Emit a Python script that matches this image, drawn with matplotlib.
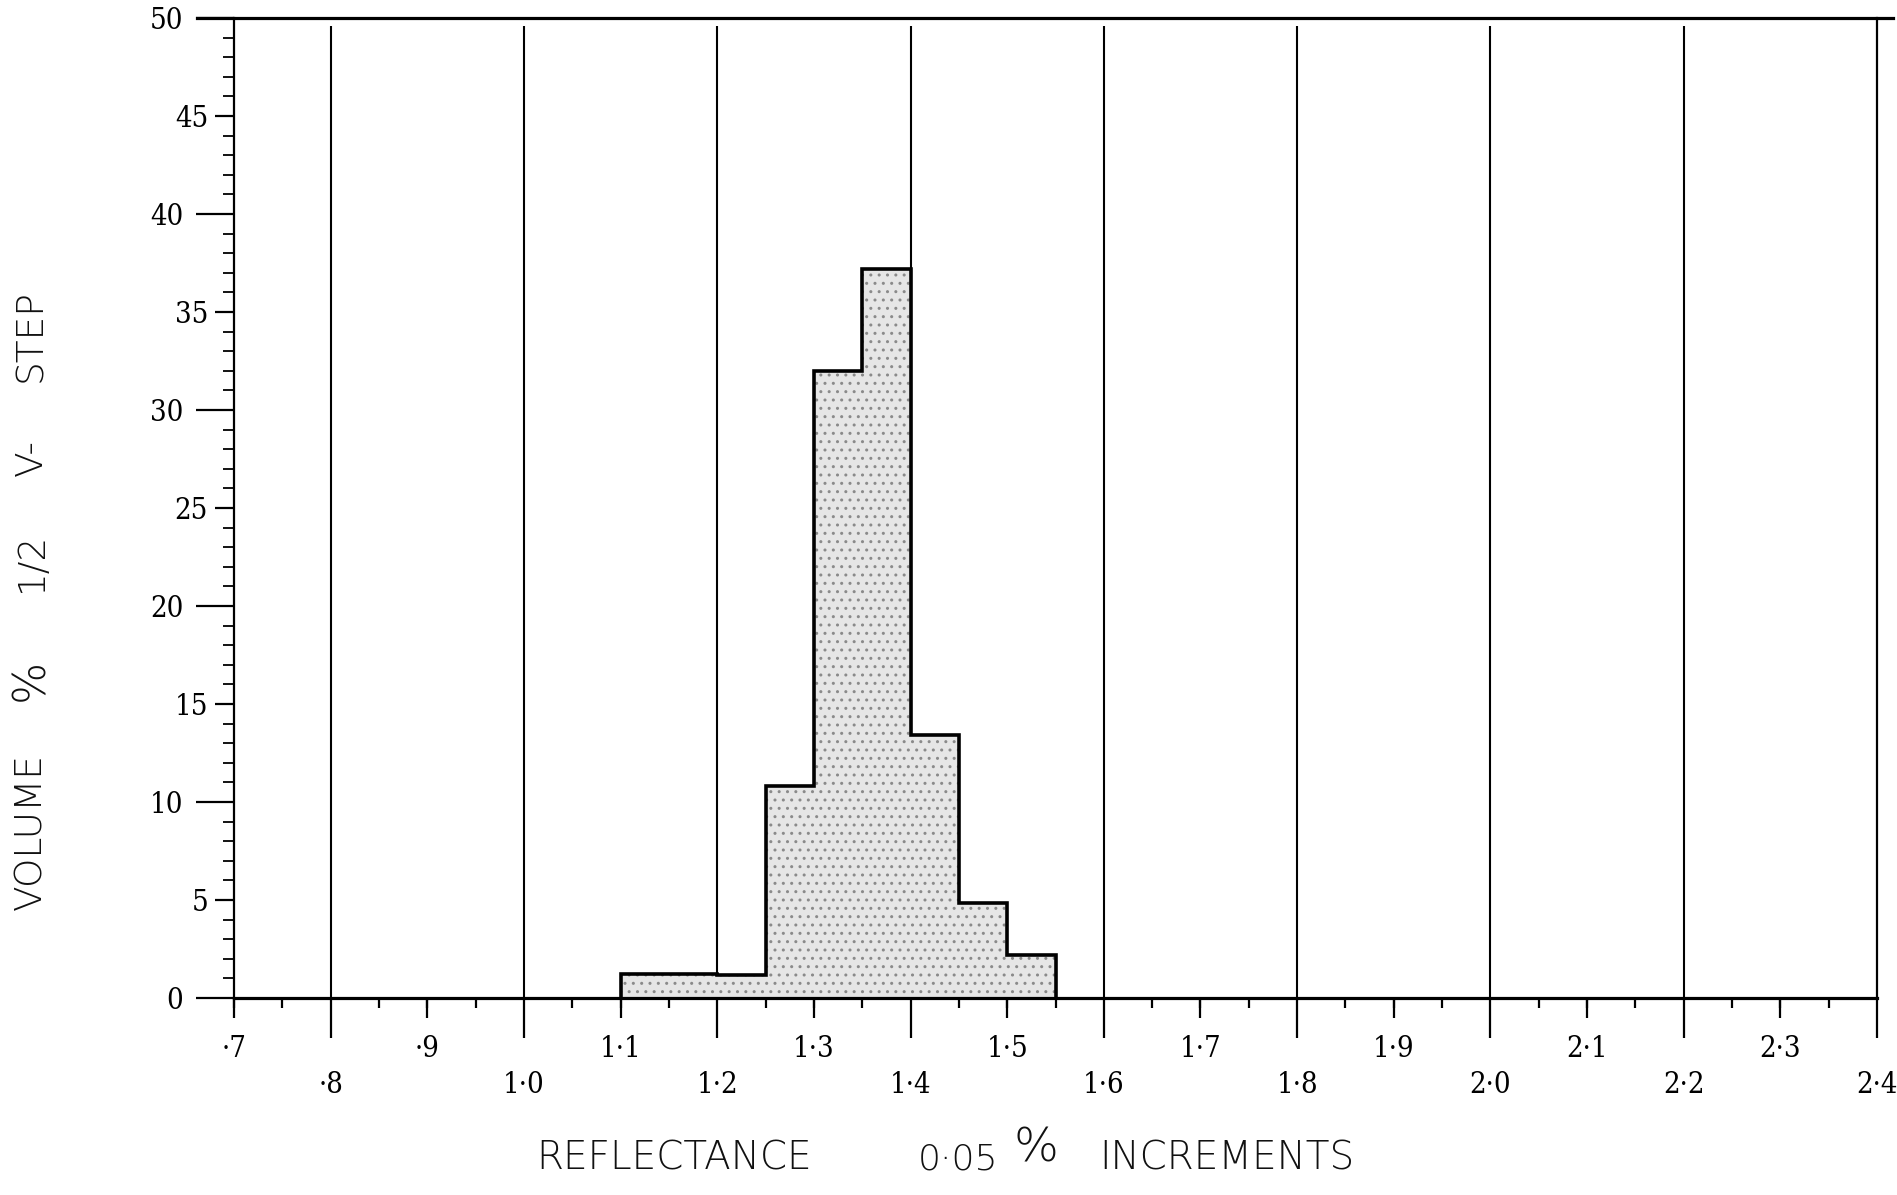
import matplotlib
matplotlib.use("Agg")
import matplotlib.pyplot as plt
from matplotlib.ticker import FixedLocator, MultipleLocator

# ---- data ----
bin_edges = [1.10, 1.15, 1.20, 1.25, 1.30, 1.35, 1.40, 1.45, 1.50, 1.55]
volume_pct = [1.2, 1.2, 1.15, 10.8, 32.0, 37.2, 13.4, 4.85, 2.2]

odd_ticks = [0.7, 0.9, 1.1, 1.3, 1.5, 1.7, 1.9, 2.1, 2.3]
odd_labels = ["·7", "·9", "1·1", "1·3", "1·5", "1·7", "1·9", "2·1", "2·3"]
even_ticks = [0.8, 1.0, 1.2, 1.4, 1.6, 1.8, 2.0, 2.2, 2.4]
even_labels = ["·8", "1·0", "1·2", "1·4", "1·6", "1·8", "2·0", "2·2", "2·4"]

y_major = [0, 10, 20, 30, 40, 50]
y_major_labels = ["0", "10", "20", "30", "40", "50"]
y_mid = [5, 15, 25, 35, 45]
y_mid_labels = ["5", "15", "25", "35", "45"]

ylabel_words = ["VOLUME", "%", "1/2", "V-", "STEP"]
xlabel_words = ["REFLECTANCE", "0·05", "%", "INCREMENTS"]

# ---- figure ----
W, H = 1897, 1195
fig = plt.figure(figsize=(W / 100, H / 100), dpi=100)
fig.patch.set_facecolor("white")
x0, x1 = 234 / W, 1877 / W
y0, y1 = 1 - 998 / H, 1 - 18 / H
ax = fig.add_axes([x0, y0, x1 - x0, y1 - y0])
ax.set_xlim(0.7, 2.4)
ax.set_ylim(0, 50)

tick_font = dict(family="DejaVu Serif", stretch="condensed", size=21)

# histogram
ax.stairs(volume_pct, bin_edges, baseline=0, fill=True,
          facecolor="#e6e6e6", edgecolor="#8a8a8a", hatch="..", linewidth=0, zorder=2)
ax.stairs(volume_pct, bin_edges, baseline=0, fill=False,
          color="black", linewidth=2.6, zorder=3)

# vertical guide lines every 0.2
ax.vlines(even_ticks[:-1], 0, 49.6, color="black", linewidth=1.5, zorder=1)

# spines
ax.spines["top"].set_visible(False)
ax.spines["left"].set_linewidth(1.6)
ax.spines["right"].set_linewidth(1.6)
ax.spines["bottom"].set_linewidth(2.3)
ax.plot([0.662, 2.417], [50, 50], color="black", linewidth=2.3, clip_on=False, zorder=4)

# x ticks
ax.xaxis.set_major_locator(FixedLocator(even_ticks))
ax.set_xticklabels(even_labels, fontdict=tick_font)
ax.xaxis.set_minor_locator(MultipleLocator(0.05))
ax.tick_params(axis="x", which="major", direction="out", length=28.8, width=1.6, pad=24)
ax.tick_params(axis="x", which="minor", direction="out", length=7.5, width=1.6)
secx = ax.secondary_xaxis("bottom")
secx.set_xticks(odd_ticks)
secx.set_xticklabels(odd_labels, fontdict=tick_font)
secx.tick_params(axis="x", direction="out", length=14.4, width=1.6, pad=12)
secx.spines["bottom"].set_visible(False)

# y ticks
ax.set_yticks(y_major)
ax.set_yticklabels(y_major_labels, fontdict=tick_font)
ax.yaxis.set_minor_locator(MultipleLocator(1))
ax.tick_params(axis="y", which="major", direction="out", length=27.4, width=1.6, pad=9)
ax.tick_params(axis="y", which="minor", direction="out", length=8, width=1.3)
secy = ax.secondary_yaxis("left")
secy.set_yticks(y_mid)
secy.set_yticklabels(y_mid_labels, fontdict=tick_font)
secy.tick_params(axis="y", direction="out", length=13.7, width=1.6, pad=5)
secy.spines["left"].set_visible(False)

# axis labels (word by word, matching the wide spacing)
lab_font = dict(family="DejaVu Sans", weight="light", color="#111111")
ylab_y = [831, 680, 562, 457, 336]
for word, py in zip(ylabel_words, ylab_y):
    fig.text(31 / W, 1 - py / H, word, rotation=90, ha="center", va="center",
             fontsize=27 if word != "%" else 32, **lab_font)

xlab_x = [674, 958, 1036, 1227]
xlab_size = [28, 26, 34, 28]
for word, px, fs in zip(xlabel_words, xlab_x, xlab_size):
    py = 1159 if word != "%" else 1148
    fig.text(px / W, 1 - py / H, word, ha="center", va="center",
             fontsize=fs, **lab_font)

fig.savefig("out.png", dpi=100, facecolor="white")
